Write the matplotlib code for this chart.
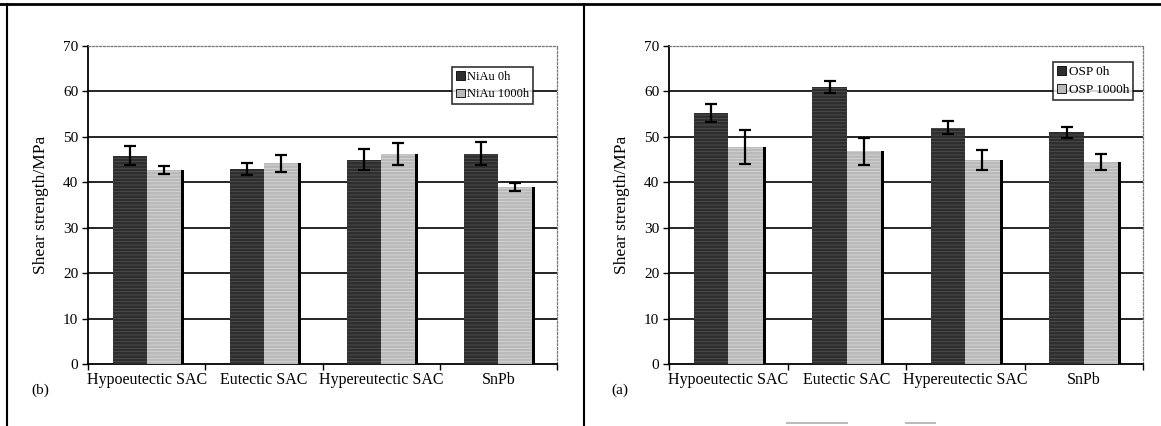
import matplotlib
matplotlib.use("Agg")
import matplotlib.pyplot as plt
from matplotlib.lines import Line2D
from matplotlib.patches import Patch
import numpy as np

plt.rcParams['font.family'] = ['Liberation Serif', 'DejaVu Serif']
plt.rcParams['hatch.linewidth'] = 0.6

categories = ["Hypoeutectic SAC", "Eutectic SAC", "Hypereutectic SAC", "SnPb"]

# Panel (b): NiAu surface finish
niau_0h = [45.8, 42.9, 45.0, 46.3]
niau_0h_err = [2.1, 1.4, 2.3, 2.5]
niau_1000h = [42.7, 44.2, 46.2, 38.9]
niau_1000h_err = [0.8, 1.9, 2.4, 0.9]

# Panel (a): OSP surface finish
osp_0h = [55.2, 61.0, 52.0, 51.0]
osp_0h_err = [2.0, 1.3, 1.4, 1.2]
osp_1000h = [47.8, 46.8, 44.9, 44.4]
osp_1000h_err = [3.8, 2.9, 2.1, 1.8]

yticks = [0, 10, 20, 30, 40, 50, 60, 70]

W, H = 1161, 426
fig = plt.figure(figsize=(W / 100, H / 100), dpi=100)
fig.patch.set_facecolor("white")

DARK = "#2e2e2e"
DARK_H = "#505050"
LIGHT = "#b9b9b9"
LIGHT_H = "#d6d6d6"


def draw_panel(ax, v0, e0, v1, e1, labels, legend_pos, legend_fs):
    x = np.arange(len(categories))
    bw = 0.29
    # drop shadow strip behind each group
    ax.bar(x + bw / 2 + 0.025, v1, width=bw, color="black", zorder=2)
    ax.bar(x - bw / 2, v0, width=bw, color=DARK, edgecolor=DARK_H,
           hatch="-----", linewidth=0, zorder=3)
    ax.bar(x + bw / 2, v1, width=bw, color=LIGHT, edgecolor=LIGHT_H,
           hatch="-----", linewidth=0, zorder=3)
    ax.errorbar(x - bw / 2, v0, yerr=e0, fmt="none", ecolor="black",
                elinewidth=1.6, capsize=4, capthick=1.6, zorder=5)
    ax.errorbar(x + bw / 2, v1, yerr=e1, fmt="none", ecolor="black",
                elinewidth=1.6, capsize=4, capthick=1.6, zorder=5)

    ax.set_xlim(-0.5, len(categories) - 0.5)
    ax.set_ylim(0, 70)
    ax.set_yticks(yticks)
    ax.set_yticklabels([str(t) for t in yticks], fontsize=11)
    ax.set_xticks(x)
    ax.set_xticklabels(categories, fontsize=11.5)
    ax.tick_params(axis="x", length=0, pad=6)
    ax.tick_params(axis="y", length=4, width=1, direction="out", pad=3)
    # category boundary ticks
    ax.set_xticks(np.arange(len(categories) + 1) - 0.5, minor=True)
    ax.tick_params(axis="x", which="minor", length=4, width=1, direction="out")

    for t in yticks[1:-1]:
        ax.axhline(t, color="black", linewidth=1.2, zorder=1)

    ax.spines["left"].set_linewidth(1.3)
    ax.spines["bottom"].set_linewidth(1.3)
    for s in ("top", "right"):
        ax.spines[s].set_linestyle((0, (1.5, 1.5)))
        ax.spines[s].set_color("#777777")
        ax.spines[s].set_linewidth(0.9)

    ax.set_ylabel("Shear strength/MPa", fontsize=12.5, labelpad=10)

    handles = [Patch(facecolor=DARK, edgecolor="black", linewidth=0.6),
               Patch(facecolor=LIGHT, edgecolor="black", linewidth=0.6)]
    leg = ax.legend(handles, labels, loc="upper right", bbox_to_anchor=legend_pos,
                    fontsize=legend_fs, frameon=True, fancybox=False, handlelength=0.7,
                    handleheight=0.7, handletextpad=0.2, borderpad=0.3,
                    labelspacing=0.45, borderaxespad=0)
    leg.get_frame().set_edgecolor("black")
    leg.get_frame().set_linewidth(1.2)
    leg.set_zorder(10)


ax_b = fig.add_axes([88 / W, 1 - 364 / H, (557 - 88) / W, (364 - 46) / H])
draw_panel(ax_b, niau_0h, niau_0h_err, niau_1000h, niau_1000h_err,
           ["NiAu 0h", "NiAu 1000h"], (0.949, 0.934), 9)

ax_a = fig.add_axes([669 / W, 1 - 364 / H, (1143 - 669) / W, (364 - 46) / H])
draw_panel(ax_a, osp_0h, osp_0h_err, osp_1000h, osp_1000h_err,
           ["OSP 0h", "OSP 1000h"], (0.979, 0.95), 9.5)

fig.text(40 / W, 1 - 390 / H, "(b)", fontsize=11, ha="center", va="center")
fig.text(620 / W, 1 - 390 / H, "(a)", fontsize=11, ha="center", va="center")

# page frame lines around the two panels
fig.add_artist(Line2D([0, 1], [1 - 4 / H, 1 - 4 / H], color="black", linewidth=2.0))
fig.add_artist(Line2D([7 / W, 7 / W], [0, 1 - 4 / H], color="black", linewidth=1.5))
fig.add_artist(Line2D([584 / W, 584 / W], [0, 1 - 4 / H], color="black", linewidth=1.5))
for x0, x1 in [(787, 847), (906, 935)]:
    fig.add_artist(Line2D([x0 / W, x1 / W], [1 - 423 / H] * 2, color="#bbbbbb", linewidth=1.5))

fig.savefig("out.png", dpi=100, facecolor="white")
